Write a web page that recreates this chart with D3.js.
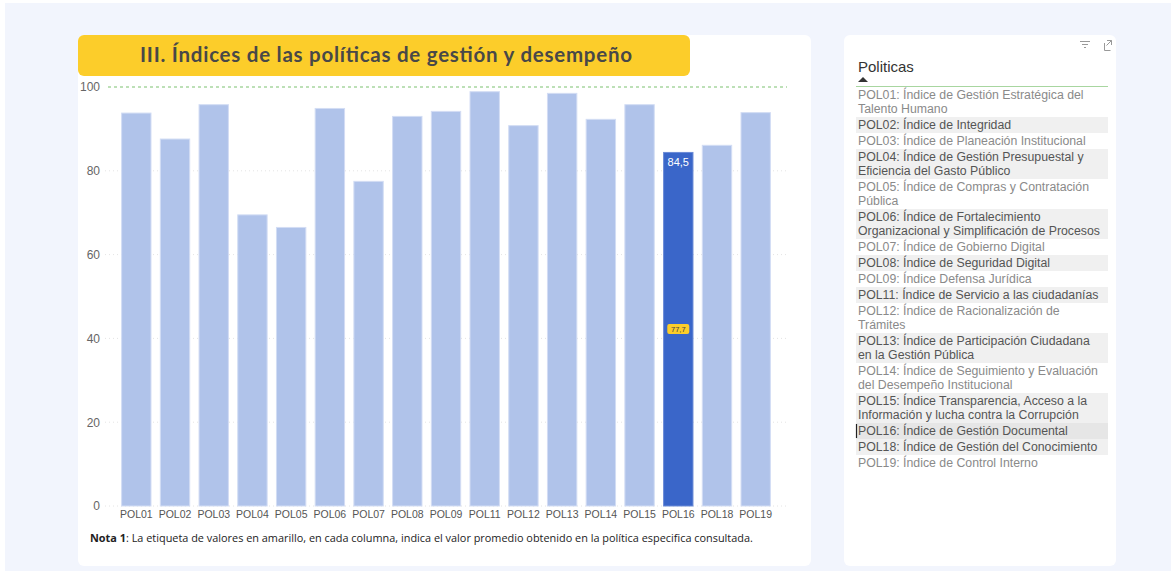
<!DOCTYPE html>
<html>
<head>
<meta charset="utf-8">
<script src="https://cdn.jsdelivr.net/npm/d3@7"></script>
<style>
  html, body { margin: 0; padding: 0; background: #ffffff; }
  svg { display: block; }
</style>
</head>
<body>
<svg id="chart" width="1176" height="574"></svg>
<script>
// ---- Data ----
const categories = ["POL01","POL02","POL03","POL04","POL05","POL06","POL07","POL08","POL09","POL11","POL12","POL13","POL14","POL15","POL16","POL18","POL19"];
const values = [93.9, 87.7, 95.9, 69.6, 66.6, 95.0, 77.6, 93.1, 94.3, 99.0, 90.9, 98.6, 92.4, 95.9, 84.5, 86.2, 94.0];
const selectedCategory = "POL16";
const selectedLabel = "84,5";
const averageLabel = "77,7";
const yTicks = [0, 20, 40, 60, 80, 100];
const referenceValue = 100;
const title = "III. Índices de las políticas de gestión y desempeño";
const noteBold = "Nota 1";
const noteText = ": La etiqueta de valores en amarillo, en cada columna, indica el valor promedio obtenido en la política especifica consultada.";
const panelTitle = "Politicas";
const policyItems = [
  ["POL01: Índice de Gestión Estratégica del", "Talento Humano"],
  ["POL02: Índice de Integridad"],
  ["POL03: Índice de Planeación Institucional"],
  ["POL04: Índice de Gestión Presupuestal y", "Eficiencia del Gasto Público"],
  ["POL05: Índice de Compras y Contratación", "Pública"],
  ["POL06: Índice de Fortalecimiento", "Organizacional y Simplificación de Procesos"],
  ["POL07: Índice de Gobierno Digital"],
  ["POL08: Índice de Seguridad Digital"],
  ["POL09: Índice Defensa Jurídica"],
  ["POL11: Índice de Servicio a las ciudadanías"],
  ["POL12: Índice de Racionalización de", "Trámites"],
  ["POL13: Índice de Participación Ciudadana", "en la Gestión Pública"],
  ["POL14: Índice de Seguimiento y Evaluación", "del Desempeño Institucional"],
  ["POL15: Índice Transparencia, Acceso a la", "Información y lucha contra la Corrupción"],
  ["POL16: Índice de Gestión Documental"],
  ["POL18: Índice de Gestión del Conocimiento"],
  ["POL19: Índice de Control Interno"]
];
const selectedIndex = 14;

// ---- Drawing ----
const svg = d3.select("#chart");
const font = "'Liberation Sans', Arial, sans-serif";

// page background
svg.append("rect").attr("x", 0).attr("y", 0).attr("width", 1176).attr("height", 574).attr("fill", "#ffffff");
svg.append("rect").attr("x", 5).attr("y", 3).attr("width", 1166).attr("height", 568).attr("fill", "#f2f5fd");

// cards
svg.append("rect").attr("x", 78).attr("y", 35).attr("width", 733).attr("height", 531).attr("rx", 6).attr("fill", "#ffffff");
svg.append("rect").attr("x", 844).attr("y", 35).attr("width", 272).attr("height", 531).attr("rx", 6).attr("fill", "#ffffff");

// title banner
svg.append("rect").attr("x", 78).attr("y", 35).attr("width", 612).attr("height", 41).attr("rx", 6).attr("fill", "#fccd2a");
svg.append("text").attr("x", 140).attr("y", 62)
  .attr("font-family", "Lato, 'Open Sans', sans-serif").attr("font-weight", 700).attr("font-size", 20.5)
  .attr("textLength", 492).attr("lengthAdjust", "spacing")
  .attr("fill", "#484848").text(title);

// scales
const x = d3.scaleBand().domain(categories).range([105, 787]).paddingInner(0.215).paddingOuter(0.416);
const y = d3.scaleLinear().domain([0, 100]).range([506, 87]);

// gridlines (dotted)
const grid = svg.append("g");
grid.selectAll("line").data(yTicks.filter(t => t !== referenceValue)).join("line")
  .attr("x1", 105).attr("x2", 787)
  .attr("y1", d => y(d)).attr("y2", d => y(d))
  .attr("stroke", "#e4e4e4").attr("stroke-width", 1).attr("stroke-dasharray", "1,3");

// y axis
const yAxis = svg.append("g").attr("transform", "translate(100,0)")
  .call(d3.axisLeft(y).tickValues(yTicks).tickSize(0).tickPadding(0).tickFormat(d3.format("d")));
yAxis.select(".domain").remove();
yAxis.selectAll("text").attr("font-family", font).attr("font-size", 12).attr("fill", "#666666");

// bars
svg.append("g").selectAll("rect").data(categories).join("rect")
  .attr("x", d => x(d) + 0.5)
  .attr("y", (d, i) => y(values[i]) + 0.5)
  .attr("width", x.bandwidth() - 1)
  .attr("height", (d, i) => y(0) - y(values[i]) - 0.5)
  .attr("fill", d => d === selectedCategory ? "#3a66c9" : "#b0c3ea")
  .attr("stroke", d => d === selectedCategory ? "#6b8bd6" : "#d3ddf4")
  .attr("stroke-width", 1);

// reference line at 100
svg.append("line").attr("x1", 108).attr("x2", 787)
  .attr("y1", y(referenceValue)).attr("y2", y(referenceValue))
  .attr("stroke", "#a8d6a0").attr("stroke-width", 1.5).attr("stroke-dasharray", "3,3");

// selected bar labels
const si = categories.indexOf(selectedCategory);
const sx = x(selectedCategory) + x.bandwidth() / 2;
svg.append("text").attr("x", sx).attr("y", y(values[si]) + 14).attr("text-anchor", "middle")
  .attr("font-family", font).attr("font-size", 11).attr("fill", "#ffffff").text(selectedLabel);
const ay = y(values[si] / 2);
svg.append("rect").attr("x", sx - 11).attr("y", ay - 5).attr("width", 22).attr("height", 10).attr("rx", 2)
  .attr("fill", "#fccd2a");
svg.append("text").attr("x", sx).attr("y", ay + 3).attr("text-anchor", "middle")
  .attr("font-family", font).attr("font-size", 7.5).attr("fill", "#444").text(averageLabel);

// x axis
const xAxis = svg.append("g").attr("transform", "translate(0,511)")
  .call(d3.axisBottom(x).tickSize(0).tickPadding(0));
xAxis.select(".domain").remove();
xAxis.selectAll("text").attr("font-family", font).attr("font-size", 10.5).attr("fill", "#555555").attr("dy", "0.71em");

// note
const note = svg.append("text").attr("x", 90).attr("y", 542)
  .attr("font-family", "'Open Sans', sans-serif").attr("font-size", 10.9).attr("fill", "#222222");
note.append("tspan").attr("font-weight", 700).text(noteBold);
note.append("tspan").text(noteText);

// ---- right panel (slicer) ----
// icons
const icon = svg.append("g").attr("stroke", "#999").attr("stroke-width", 1).attr("fill", "none");
icon.append("line").attr("x1", 1080).attr("x2", 1090).attr("y1", 41.5).attr("y2", 41.5);
icon.append("line").attr("x1", 1082).attr("x2", 1088).attr("y1", 44.5).attr("y2", 44.5);
icon.append("line").attr("x1", 1084).attr("x2", 1086).attr("y1", 47.5).attr("y2", 47.5);
icon.append("path").attr("d", "M1104.5,43 V50.5 H1110.5 M1107,40.5 H1111.5 V45 M1111.5,40.5 L1106.5,45.5");

svg.append("text").attr("x", 858).attr("y", 72).attr("font-family", font).attr("font-size", 15)
  .attr("fill", "#333333").text(panelTitle);
svg.append("path").attr("d", "M858,82 L863,77 L868,82 Z").attr("fill", "#333");
svg.append("line").attr("x1", 856).attr("x2", 1108).attr("y1", 86.5).attr("y2", 86.5)
  .attr("stroke", "#a8d6a0").attr("stroke-width", 1);

let yy = 87;
const list = svg.append("g");
policyItems.forEach((lines, i) => {
  const h = 2 + 14 * lines.length;
  const bg = i === selectedIndex ? "#e6e6e6" : (i % 2 === 1 ? "#f0f0f0" : "#ffffff");
  list.append("rect").attr("x", 856).attr("y", yy).attr("width", 252).attr("height", h).attr("fill", bg);
  const col = (i % 2 === 1 || i === selectedIndex) ? "#555555" : "#8a8a8a";
  lines.forEach((ln, j) => {
    list.append("text").attr("x", 858).attr("y", yy + 12 + 14 * j)
      .attr("font-family", font).attr("font-size", 12.3).attr("fill", col).text(ln);
  });
  if (i === selectedIndex) {
    list.append("line").attr("x1", 856.5).attr("x2", 856.5).attr("y1", yy + 1).attr("y2", yy + h - 1)
      .attr("stroke", "#222").attr("stroke-width", 1.2);
  }
  yy += h;
});
</script>
</body>
</html>
